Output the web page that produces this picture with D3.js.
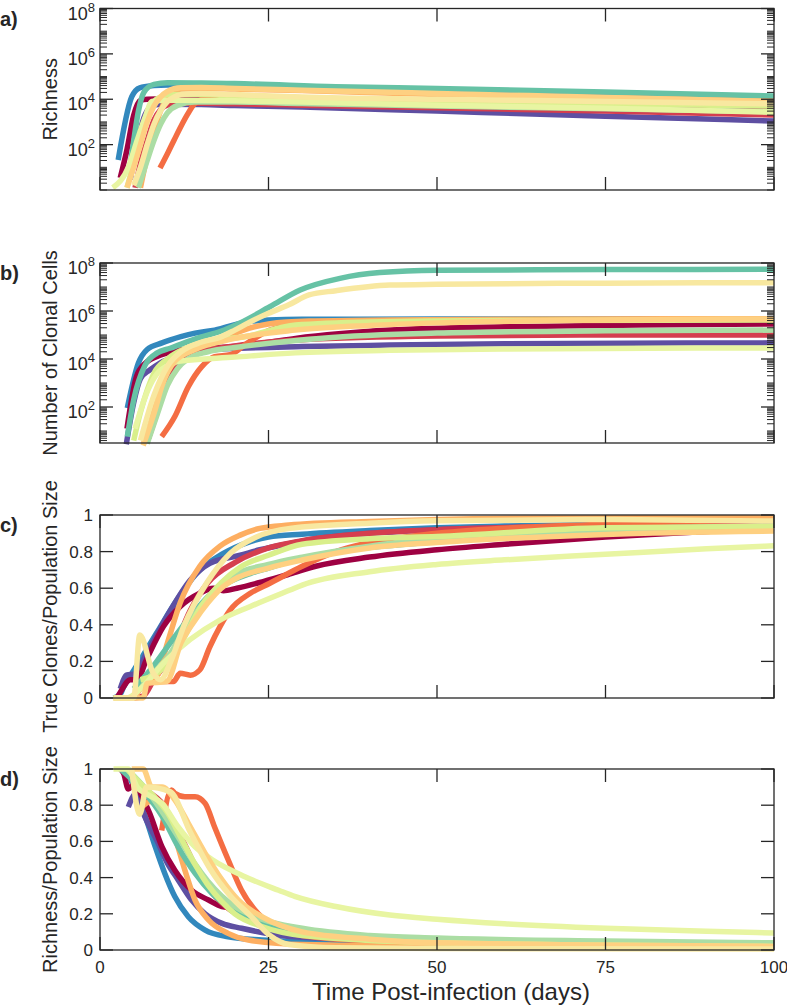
<!DOCTYPE html>
<html><head><meta charset="utf-8">
<script src="https://cdn.jsdelivr.net/npm/d3@7"></script>
<style>
body{margin:0;background:#fff}
svg{display:block}
text{font-family:"Liberation Sans",Arial,Helvetica,sans-serif;fill:#262626}
</style>
</head><body>
<svg id="chart" width="787" height="1006"></svg>
<script>
// ---------- DATA ----------
const seriesNames = ["s1","s2","s3","s4","s5","s6","s7","s8","s9","s10","s11","s12"];
const seriesColors = ["#3288bd","#5e4fa2","#9e0142","#d53e4f","#f46d43","#fdae61","#66c2a5","#abdda4","#d9ef8b","#e8f5a2","#fed081","#f8e8a0"];
const xTicks = [0,25,50,75,100];
const logMajorTicks = [1e2,1e4,1e6,1e8];
const linearTicks = [0,0.2,0.4,0.6,0.8,1];
const panelLetters = ["a)","b)","c)","d)"];
const yTitles = ["Richness","Number of Clonal Cells","True Clones/Population Size","Richness/Population Size"];
const xTitle = "Time Post-infection (days)";

// a) Richness  [day, value]
const richness = [
 [[2.7,21],[4.7,1.26e4],[5.9,3.2e4],[8,4.0e4],[10,4.3e4],[15,4.2e4],[20,3.9e4],[30,3.4e4],[50,2.6e4],[75,1.9e4],[100,1.3e4]],
 [[4.5,3],[5.5,100],[6.5,1500],[7.5,4500],[9,6000],[15,5800],[20,5300],[30,4500],[50,3000],[75,1800],[100,1100]],
 [[3,3.4],[4,60],[5,2000],[6,9000],[7,1.0e4],[10,1.05e4],[15,1.0e4],[20,9.5e3],[30,8.5e3],[50,7e3],[75,5.5e3],[100,4.0e3]],
 [[5.2,1.26],[6,15],[7,150],[8,1200],[9,3500],[10,5500],[12,6600],[15,6600],[20,6300],[30,5500],[50,4200],[75,3000],[100,2000]],
 [[8.9,9.3],[10,40],[11,160],[12,630],[13,2200],[14,6300],[15,9500],[16,1.1e4],[20,1.25e4],[30,1.1e4],[50,9000],[75,7500],[100,6000]],
 [[6,1.26],[7,30],[8,400],[9,3200],[10,1.26e4],[11,2.2e4],[12,2.8e4],[15,3.0e4],[20,2.8e4],[30,2.4e4],[50,1.6e4],[75,1.2e4],[100,9000]],
 [[4.3,5],[5,150],[5.7,3000],[6.5,2.0e4],[8,4.5e4],[10,5.3e4],[15,5.2e4],[20,4.9e4],[35,3.6e4],[50,3.0e4],[75,2.1e4],[100,1.4e4]],
 [[5.7,1.26],[7,20],[8,150],[9,800],[10,2500],[11.6,5500],[14,7500],[20,7500],[30,6500],[50,5000],[75,3800],[100,2800]],
 [[4,1.26],[5,16],[6,250],[7,2500],[8,8000],[9,1.26e4],[10,1.6e4],[15,1.6e4],[20,1.4e4],[50,8000],[100,5000]],
 [[1.9,1.26],[4.2,10],[5.5,150],[6.7,1600],[7.7,8000],[10,9000],[20,8500],[30,7500],[50,5500],[75,4000],[100,2700]],
 [[4,1.26],[5,10],[6,100],[7,1000],[8,5000],[9,1.26e4],[10,2.2e4],[12,3.2e4],[15,3.3e4],[20,3.0e4],[30,2.5e4],[50,1.8e4],[75,1.2e4],[100,8000]],
 [[5,1.6],[6,10],[7,100],[8,800],[9,3200],[10,8000],[11,1.26e4],[12,1.6e4],[15,1.8e4],[20,1.6e4],[30,1.26e4],[50,1.0e4],[75,8000],[100,6300]]
];

// b) Number of clonal cells
const clonalCells = [
 [[4.05,90],[5.7,6800],[7,2.5e4],[9.2,4.7e4],[12,8.5e4],[14.1,1.2e5],[17,1.6e5],[21.8,3.5e5],[25,4.2e5],[30,4.5e5],[50,4.6e5],[75,4.6e5],[100,4.6e5]],
 [[3.9,2.8],[5,150],[6,1500],[7.4,3500],[8.9,6800],[12,1.5e4],[16,2.3e4],[20.8,2.8e4],[30,3.3e4],[43,3.8e4],[60,4.3e4],[100,4.7e4]],
 [[4,12.6],[5.4,1800],[6.7,6600],[9.15,1.5e4],[14.1,2.8e4],[19,3.2e4],[24,4.5e4],[29,7.2e4],[43,1.6e5],[60,2.2e5],[80,2.6e5],[100,2.9e5]],
 [[7.2,5],[8.6,76],[10,1500],[11,5000],[14,1.6e4],[20,3.5e4],[30,6.3e4],[50,9e4],[75,1e5],[100,1e5]],
 [[9.15,5.8],[11.1,40],[13.1,700],[15.1,4800],[17,1.26e4],[19.3,1.5e4],[21.8,4.5e4],[25.2,1.6e5],[30.7,3.1e5],[40,3.8e5],[60,4.2e5],[100,4.4e5]],
 [[6.5,3],[8,120],[9,1000],[10,3500],[12,1.3e4],[15,3.5e4],[18,7e4],[21,1.5e5],[25,2.9e5],[31,3.8e5],[43,4.2e5],[60,4.5e5],[100,4.8e5]],
 [[4.05,5.8],[5,200],[6.7,5600],[8.5,1.8e4],[10.4,2.8e4],[14.8,8e4],[17.8,1.4e5],[20.8,3.2e5],[25.2,1.5e6],[29.7,7.5e6],[35.6,2.3e7],[41.5,4.0e7],[50,5.0e7],[75,5.3e7],[100,5.5e7]],
 [[7,3],[8.5,50],[10,800],[11.5,4000],[13,1e4],[16,2e4],[20,3e4],[33,7.4e4],[50,1.2e5],[75,1.5e5],[100,1.6e5]],
 [[5,4],[6,60],[7,500],[8,2500],[10,1e4],[13,3e4],[17,6e4],[21.5,8.5e4],[29,2.6e5],[40,3.5e5],[60,4e5],[100,4.2e5]],
 [[5.2,12.6],[7.1,500],[8.5,2500],[10.4,5600],[11.6,8000],[20,1.2e4],[29,1.8e4],[43,2.3e4],[60,2.6e4],[100,2.9e4]],
 [[6.4,2.5],[8.2,80],[9.15,700],[11.1,8000],[14.1,2.5e4],[19,6.3e4],[29,1.6e5],[40,2.5e5],[50,3.2e5],[75,4.2e5],[100,4.7e5]],
 [[6,4],[8,300],[10,5000],[12,2e4],[15,5e4],[17.8,8e4],[20,1.6e5],[22,3.2e5],[25,8e5],[28,1.8e6],[31,4.7e6],[35,7e6],[43,1.2e7],[50,1.3e7],[75,1.45e7],[100,1.5e7]]
];

// c) True clones / population size
const trueClonesFrac = [
 [[2,0],[3,0.02],[3.5,0.06],[5,0.15],[6.5,0.24],[8.4,0.355],[11.4,0.535],[14.3,0.68],[18.3,0.79],[22.3,0.855],[25,0.88],[30,0.895],[40,0.915],[50,0.93],[60,0.94],[75,0.95],[100,0.96]],
 [[3,0.05],[4,0.126],[5,0.13],[7,0.25],[10,0.45],[13.4,0.645],[16.3,0.736],[20.8,0.78],[23.7,0.81],[28.2,0.845],[32,0.87],[40,0.9],[50,0.92],[75,0.94],[100,0.95]],
 [[2.5,0],[3,0.03],[4.5,0.1],[5.5,0.1],[6.9,0.21],[9.4,0.39],[11.9,0.5],[14.8,0.572],[16.8,0.6],[18.3,0.586],[20.3,0.6],[24.2,0.636],[28.2,0.678],[32,0.72],[40,0.77],[50,0.81],[60,0.84],[75,0.88],[90,0.91],[100,0.93]],
 [[5,0],[6.4,0.01],[8,0.1],[10.4,0.225],[13.4,0.48],[16,0.63],[20,0.74],[25,0.82],[30,0.86],[40,0.9],[50,0.92],[75,0.94],[100,0.95]],
 [[7,0.08],[8.4,0.09],[10.9,0.09],[11.9,0.135],[13.4,0.125],[14.8,0.153],[16.3,0.28],[17.8,0.39],[19.3,0.48],[22.3,0.572],[25.2,0.627],[30,0.72],[35,0.8],[40,0.85],[50,0.9],[75,0.95],[100,0.975]],
 [[5,0],[6,0.05],[7,0.1],[8.4,0.116],[10,0.3],[11.9,0.52],[14.8,0.72],[17.8,0.83],[20.8,0.89],[23.7,0.927],[28,0.945],[40,0.965],[50,0.975],[75,0.985],[100,0.985]],
 [[5,0.05],[7.4,0.15],[10.4,0.3],[13.4,0.445],[16.3,0.563],[19.3,0.636],[22.3,0.68],[25,0.71],[29.7,0.76],[35,0.8],[42,0.83],[50,0.855],[75,0.91],[100,0.94]],
 [[6,0.05],[7,0.1],[10,0.22],[13,0.4],[16,0.55],[19.8,0.67],[25,0.73],[30,0.77],[40,0.83],[50,0.87],[75,0.92],[100,0.94]],
 [[6,0.1],[9,0.15],[12,0.3],[15,0.5],[18,0.63],[21,0.72],[25,0.78],[30,0.84],[40,0.87],[50,0.882],[75,0.93],[100,0.936]],
 [[2,0],[4,0],[6,0.05],[9.4,0.19],[13.4,0.32],[17.8,0.426],[22.3,0.5],[28.2,0.59],[30,0.617],[40,0.69],[50,0.73],[60,0.755],[75,0.785],[90,0.815],[100,0.832]],
 [[2,0],[6.4,0],[7,0.08],[9.9,0.09],[12,0.3],[14,0.42],[16,0.52],[18,0.6],[20,0.65],[25,0.71],[30,0.754],[40,0.82],[50,0.85],[75,0.894],[100,0.912]],
 [[2,0],[5,0],[5.9,0.344],[7.9,0.135],[9,0.1],[10.5,0.2],[12.4,0.39],[15.8,0.627],[19.3,0.79],[23.2,0.88],[28.2,0.927],[40,0.955],[50,0.968],[75,0.975],[100,0.967]]
];

// d) Richness / population size
const richnessFrac = [
 [[4.3,0.97],[4.9,0.91],[6.7,0.74],[8.2,0.57],[9.6,0.424],[11.1,0.295],[13.1,0.184],[15.6,0.11],[19,0.073],[24,0.055],[30,0.045],[50,0.03],[75,0.025],[100,0.02]],
 [[4.2,0.79],[5.4,0.866],[6.5,0.75],[8.5,0.6],[10,0.48],[11.6,0.387],[13.5,0.28],[15.6,0.2],[18.1,0.147],[21,0.12],[25,0.09],[30,0.07],[50,0.05],[75,0.04],[100,0.035]],
 [[3,1],[3.5,0.976],[4.2,0.89],[4.9,0.91],[7.2,0.77],[9.2,0.57],[11.1,0.44],[13.6,0.33],[16.1,0.276],[18.1,0.24],[20,0.23],[22.5,0.184],[26,0.13],[30,0.1],[40,0.07],[50,0.055],[75,0.04],[100,0.035]],
 [[4,1],[5,0.95],[7,0.88],[9,0.82],[11,0.7],[13,0.55],[15,0.4],[17,0.3],[19,0.23],[22,0.17],[26,0.12],[30,0.09],[50,0.04],[75,0.03],[100,0.02]],
 [[9.15,0.66],[10.6,0.884],[11.1,0.866],[12.6,0.847],[14.1,0.847],[15.6,0.81],[17,0.68],[19,0.5],[21,0.33],[23.5,0.2],[26,0.13],[30,0.08],[40,0.05],[50,0.035],[75,0.025],[100,0.02]],
 [[6.2,0.79],[7.5,0.82],[9.2,0.81],[11.1,0.626],[12.6,0.44],[14.1,0.276],[16.1,0.166],[19,0.092],[22,0.055],[30,0.03],[50,0.02],[100,0.015]],
 [[3,1],[4.5,0.95],[6.7,0.866],[9.2,0.74],[11.6,0.57],[14.1,0.424],[16.6,0.313],[19,0.24],[22.5,0.166],[30,0.1],[40,0.07],[50,0.05],[75,0.04],[100,0.03]],
 [[4,1],[7,0.88],[10,0.72],[12,0.6],[14,0.48],[16,0.38],[18,0.3],[20,0.24],[24,0.17],[30,0.12],[40,0.08],[50,0.066],[75,0.05],[100,0.04]],
 [[4,1],[6,0.92],[8,0.85],[10,0.76],[12,0.62],[14,0.48],[16,0.36],[18,0.27],[20,0.2],[24,0.13],[30,0.08],[50,0.04],[100,0.02]],
 [[2,1],[4.2,1],[5.5,0.9],[7,0.86],[9.2,0.81],[11.6,0.68],[14.1,0.57],[16.6,0.5],[21.5,0.405],[26.5,0.33],[29,0.295],[35,0.24],[43,0.193],[50,0.17],[60,0.145],[75,0.12],[90,0.103],[100,0.094]],
 [[4.7,1],[6.4,1],[7.7,0.9],[9.2,0.9],[11.1,0.83],[13.1,0.7],[15.6,0.534],[18.1,0.387],[20.5,0.276],[24,0.184],[30,0.1],[40,0.06],[50,0.04],[100,0.02]],
 [[4.7,1],[5.9,0.75],[6.9,0.9],[10.4,0.875],[13.4,0.65],[16.3,0.45],[19.3,0.3],[22.3,0.19],[25.2,0.08],[28,0.03],[35,0.012],[50,0.008],[100,0.005]]
];

// ---------- DRAWING ----------
const svg = d3.select("#chart");
const axisColor = "#262626";
const x = d3.scaleLinear().domain([0,100]).range([100,774]);
const panels = [
  {data:richness,      top:8.5, bottom:190, log:true,  domain:[1,1e8]},
  {data:clonalCells,   top:263, bottom:443, log:true,  domain:[Math.pow(10,0.5),1e8]},
  {data:trueClonesFrac,top:515, bottom:698, log:false, domain:[0,1]},
  {data:richnessFrac,  top:769, bottom:950, log:false, domain:[0,1]}
];
const majorLen = 13, minorLen = 7;
const x0 = x.range()[0], x1 = x.range()[1];

panels.forEach((p, pi) => {
  const y = (p.log ? d3.scaleLog() : d3.scaleLinear()).domain(p.domain).range([p.bottom, p.top]);
  const g = svg.append("g");

  // lines
  const line = d3.line().x(d => x(d[0])).y(d => y(d[1])).curve(d3.curveMonotoneX);
  g.selectAll("path.series").data(p.data).join("path")
    .attr("class","series")
    .attr("d", line)
    .attr("fill","none")
    .attr("stroke",(d,i)=>seriesColors[i])
    .attr("stroke-width",5.5)
    .attr("stroke-linejoin","round")
    .attr("stroke-linecap","butt");

  // frame
  g.append("rect").attr("x",x0).attr("y",p.top).attr("width",x1-x0).attr("height",p.bottom-p.top)
    .attr("fill","none").attr("stroke",axisColor).attr("stroke-width",1.3);

  // x ticks (inward, bottom and top)
  xTicks.forEach(t => {
    const xx = x(t);
    g.append("line").attr("x1",xx).attr("x2",xx).attr("y1",p.bottom).attr("y2",p.bottom-majorLen).attr("stroke",axisColor).attr("stroke-width",1.3);
    g.append("line").attr("x1",xx).attr("x2",xx).attr("y1",p.top).attr("y2",p.top+majorLen).attr("stroke",axisColor).attr("stroke-width",1.3);
  });
  if (pi === 3) {
    g.selectAll("text.xt").data(xTicks).join("text").attr("class","xt")
      .attr("x", d => x(d)).attr("y", p.bottom + 23)
      .attr("text-anchor","middle").attr("font-size",17).text(d => d);
  }

  // y ticks
  const yt = p.log ? logMajorTicks : linearTicks;
  yt.forEach(t => {
    const yy = y(t);
    g.append("line").attr("x1",x0).attr("x2",x0+majorLen).attr("y1",yy).attr("y2",yy).attr("stroke",axisColor).attr("stroke-width",1.3);
    g.append("line").attr("x1",x1).attr("x2",x1-majorLen).attr("y1",yy).attr("y2",yy).attr("stroke",axisColor).attr("stroke-width",1.3);
  });
  if (p.log) {
    const lo = Math.floor(Math.log10(p.domain[0])), hi = Math.ceil(Math.log10(p.domain[1]));
    for (let e = lo; e < hi; e++) {
      for (let k = 1; k <= 9; k++) {
        const v = k * Math.pow(10, e);
        if (v < p.domain[0] || v > p.domain[1]) continue;
        if (logMajorTicks.includes(v)) continue;
        const yy = y(v);
        g.append("line").attr("x1",x0).attr("x2",x0+minorLen).attr("y1",yy).attr("y2",yy).attr("stroke",axisColor).attr("stroke-width",1);
        g.append("line").attr("x1",x1).attr("x2",x1-minorLen).attr("y1",yy).attr("y2",yy).attr("stroke",axisColor).attr("stroke-width",1);
      }
    }
    yt.forEach(t => {
      const tx = g.append("text").attr("x",95).attr("y",y(t)+11).attr("text-anchor","end").attr("font-size",18);
      tx.append("tspan").text("10");
      tx.append("tspan").attr("dy",-8).attr("font-size",13).text(Math.round(Math.log10(t)));
    });
  } else {
    g.selectAll("text.yt").data(yt).join("text").attr("class","yt")
      .attr("x",93).attr("y",d => y(d)+6).attr("text-anchor","end").attr("font-size",17)
      .text(d => d3.format("~g")(d));
  }

  // y title
  const cy = (p.top + p.bottom) / 2;
  g.append("text").attr("transform",`translate(57,${cy}) rotate(-90)`)
    .attr("text-anchor","middle").attr("font-size",20).text(yTitles[pi]);

  // panel letter
  g.append("text").attr("x",0).attr("y",p.top+17).attr("font-size",20).attr("font-weight","bold").text(panelLetters[pi]);
});

svg.append("text").attr("x",451).attr("y",1000).attr("text-anchor","middle").attr("font-size",24).text(xTitle);
</script>
</body></html>
